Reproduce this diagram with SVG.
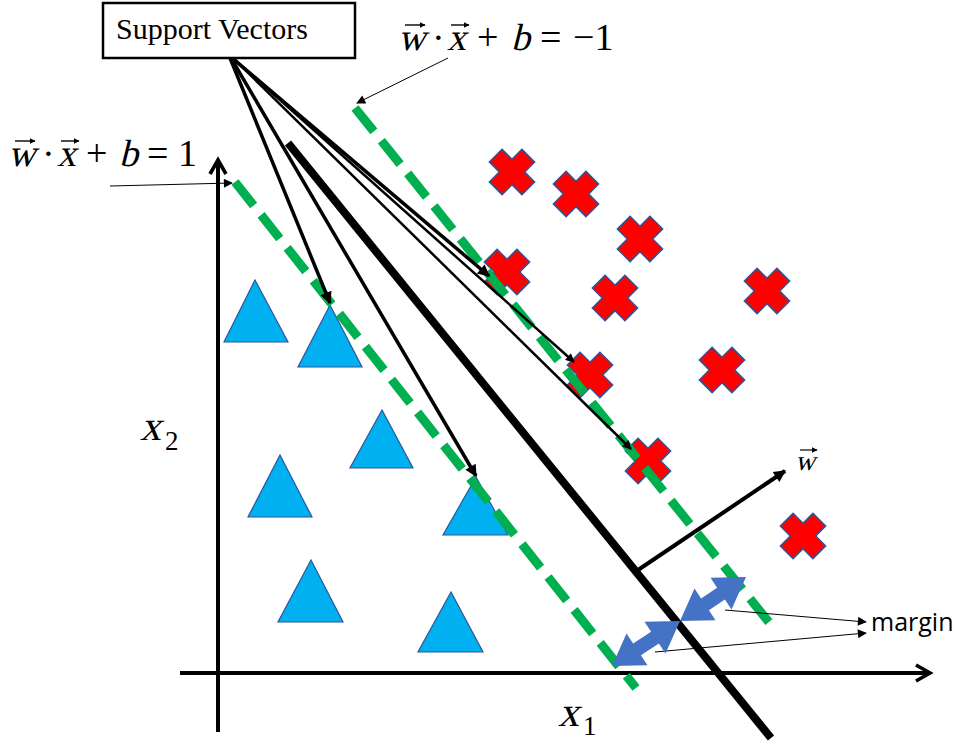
<svg xmlns="http://www.w3.org/2000/svg" width="968" height="742" viewBox="0 0 968 742">
<style>
.tri{fill:#00B0F0;stroke:#2F5597;stroke-width:1.2}
.xm{fill:#FF0000;stroke:#2F5597;stroke-width:1.5}
.green{stroke:#00B050;stroke-width:9;stroke-dasharray:30 12;fill:none}
.sv{stroke:#000;fill:none}
.blue{fill:#4472C4}
</style>
<defs>
<marker id="ah" viewBox="0 0 10 10" refX="9" refY="5" markerWidth="15" markerHeight="12" markerUnits="userSpaceOnUse" orient="auto"><path d="M0,0 L10,5 L0,10 z" fill="#000"/></marker>
<marker id="ahs" viewBox="0 0 10 10" refX="9" refY="5" markerWidth="12" markerHeight="9" markerUnits="userSpaceOnUse" orient="auto"><path d="M0,0 L10,5 L0,10 z" fill="#000"/></marker>
<marker id="ax" viewBox="0 0 10 10" refX="7" refY="5" markerWidth="20" markerHeight="20" markerUnits="userSpaceOnUse" orient="auto"><path d="M1,1 L8,5 L1,9" fill="none" stroke="#000" stroke-width="1.8"/></marker>
<marker id="acc" viewBox="0 0 10 10" refX="9" refY="5" markerWidth="6" markerHeight="6" markerUnits="userSpaceOnUse" orient="auto"><path d="M0,0 L10,5 L0,10 z" fill="#000"/></marker>
<path id="cross" d="M-9,-23 L9,-23 L9,-9 L23,-9 L23,9 L9,9 L9,23 L-9,23 L-9,9 L-23,9 L-23,-9 L-9,-9 z" transform="rotate(45)"/>
</defs>

<g id="axes">
<line x1="218" y1="732" x2="218" y2="162" stroke="#000" stroke-width="4" marker-end="url(#ax)"/>
<line x1="180" y1="673" x2="928" y2="673" stroke="#000" stroke-width="4" marker-end="url(#ax)"/>
</g>

<g id="triangles">
<polygon id="t1" class="tri" points="255,280 224,342 288,342"/>
<polygon id="t2" class="tri" points="330,305 298,367 362,367"/>
<polygon id="t3" class="tri" points="382,410 350,468 413,468"/>
<polygon id="t4" class="tri" points="280,455 248,517 312,517"/>
<polygon id="t5" class="tri" points="476,477 443,535 508,535"/>
<polygon id="t6" class="tri" points="311,560 278,622 343,622"/>
<polygon id="t7" class="tri" points="451,592 418,652 483,652"/>
</g>

<g id="crosses">
<use id="c1" class="xm" href="#cross" x="512" y="172"/>
<use id="c2" class="xm" href="#cross" x="576" y="194"/>
<use id="c3" class="xm" href="#cross" x="640" y="239"/>
<use id="c4" class="xm" href="#cross" x="507" y="272"/>
<use id="c5" class="xm" href="#cross" x="615" y="298"/>
<use id="c6" class="xm" href="#cross" x="767" y="291"/>
<use id="c7" class="xm" href="#cross" x="590" y="375"/>
<use id="c8" class="xm" href="#cross" x="722" y="370"/>
<use id="c9" class="xm" href="#cross" x="648" y="461"/>
<use id="c10" class="xm" href="#cross" x="803" y="536"/>
</g>

<g id="margins">
<line class="green" x1="355" y1="108" x2="776" y2="631"/>
<line class="green" x1="235" y1="182" x2="636" y2="688"/>
</g>

<g id="hyperplane">
<line x1="288" y1="143" x2="771" y2="738" stroke="#000" stroke-width="8"/>
</g>

<g id="support-box">
<rect x="103" y="3" width="252" height="55" fill="#fff" stroke="#000" stroke-width="2.5"/>
<text font-family="'Liberation Serif','Times New Roman',serif" font-size="30" x="116" y="39">Support Vectors</text>
</g>

<g id="connectors">
<line class="sv" stroke-width="3.5" x1="230" y1="58" x2="330" y2="303" marker-end="url(#ah)"/>
<line class="sv" stroke-width="3.5" x1="231" y1="58" x2="476" y2="476" marker-end="url(#ah)"/>
<line class="sv" stroke-width="3.5" x1="232" y1="58" x2="489" y2="276" marker-end="url(#ah)"/>
<line class="sv" stroke-width="2.5" x1="233" y1="58" x2="574" y2="362" marker-end="url(#ahs)"/>
<line class="sv" stroke-width="2.5" x1="233" y1="58" x2="631" y2="449" marker-end="url(#ahs)"/>
<line x1="448" y1="58" x2="357" y2="103" stroke="#000" stroke-width="1" marker-end="url(#ahs)"/>
<line x1="110" y1="186" x2="232" y2="183" stroke="#000" stroke-width="1" marker-end="url(#ahs)"/>
<line x1="725" y1="610" x2="866" y2="622" stroke="#000" stroke-width="1" marker-end="url(#ahs)"/>
<line x1="655" y1="652" x2="866" y2="633" stroke="#000" stroke-width="1" marker-end="url(#ahs)"/>
<line x1="638" y1="570" x2="785" y2="471" stroke="#000" stroke-width="4" marker-end="url(#ah)"/>
</g>

<g id="margin-arrows">
<polygon class="blue" points="612,666 626.5,633.6 633.1,643.6 651.1,631.8 644.5,621.8 680,621 665.5,653.4 658.9,643.4 640.9,655.2 647.5,665.2"/>
<polygon class="blue" points="680,621 694.5,588.6 701.1,598.6 717.1,587.8 710.5,577.8 746,577 731.5,609.4 724.9,599.4 708.9,610.2 715.5,620.2"/>
</g>

<g id="labels" font-family="'Liberation Serif','Times New Roman',serif">
<text font-size="38" transform="translate(398,50) skewX(-14)">w</text>
<text font-size="38" x="432" y="50">·</text>
<text font-size="38" transform="translate(447,50) skewX(-14)">x</text>
<text font-size="38" x="477" y="50">+</text>
<text font-size="38" transform="translate(511,50) skewX(-14)">b</text>
<text font-size="38" x="540" y="50">=</text>
<text font-size="38" x="573" y="50">−1</text>
<line x1="405" y1="25" x2="425" y2="25" stroke="#000" stroke-width="1.4" marker-end="url(#acc)"/>
<line x1="451" y1="25" x2="469" y2="25" stroke="#000" stroke-width="1.4" marker-end="url(#acc)"/>

<text font-size="38" transform="translate(8,166) skewX(-14)">w</text>
<text font-size="38" x="42" y="166">·</text>
<text font-size="38" transform="translate(57,166) skewX(-14)">x</text>
<text font-size="38" x="86" y="166">+</text>
<text font-size="38" transform="translate(119,166) skewX(-14)">b</text>
<text font-size="38" x="147" y="166">=</text>
<text font-size="38" x="178" y="166">1</text>
<line x1="15" y1="141" x2="35" y2="141" stroke="#000" stroke-width="1.4" marker-end="url(#acc)"/>
<line x1="61" y1="141" x2="79" y2="141" stroke="#000" stroke-width="1.4" marker-end="url(#acc)"/>

<text font-size="28" transform="translate(795,470) skewX(-14)">w</text>
<line x1="800" y1="450" x2="817" y2="450" stroke="#000" stroke-width="1.2" marker-end="url(#acc)"/>

<text x="871" y="631" font-family="'Open Sans','Liberation Sans',sans-serif" font-size="25">margin</text>

<text font-size="42" transform="translate(140,440) skewX(-14)">x</text><text font-size="27" x="165" y="450">2</text>
<text font-size="42" transform="translate(558,726) skewX(-14)">x</text><text font-size="27" x="583" y="735">1</text>
</g>
</svg>
